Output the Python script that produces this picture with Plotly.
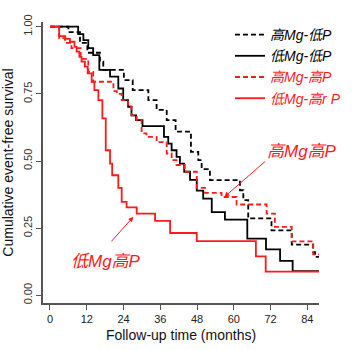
import plotly.graph_objects as go

# ---- data ----
hmg_lp_t = [0, 6, 9.8, 12.2, 16.3, 17.4, 24.1, 27, 32.1, 34.8, 38.1, 41, 46, 48.4, 49.5, 52.2, 62, 63.1, 64.7, 72.3, 78.9, 85.9, 86.5, 87.8]
hmg_lp_s = [1.0, 0.98, 0.94, 0.903, 0.87, 0.839, 0.801, 0.764, 0.727, 0.69, 0.652, 0.609, 0.534, 0.503, 0.47, 0.429, 0.391, 0.354, 0.286, 0.242, 0.189, 0.161, 0.143, 0.143]

lmg_lp_t = [0, 9.2, 10.9, 12.5, 14.1, 16.1, 19.6, 22.3, 23.9, 25.5, 26.6, 28.1, 30.2, 37.2, 38.6, 39.7, 41.3, 42.4, 43.8, 45.7, 47.9, 50, 52.8, 57.1, 64.4, 70.5, 75.1, 79.2, 87.8]
lmg_lp_s = [1.0, 0.972, 0.95, 0.92, 0.894, 0.839, 0.814, 0.77, 0.727, 0.702, 0.67, 0.652, 0.63, 0.59, 0.565, 0.54, 0.515, 0.49, 0.46, 0.43, 0.39, 0.36, 0.31, 0.282, 0.211, 0.171, 0.128, 0.09, 0.09]

hmg_hp_t = [0, 3, 4.9, 7, 10, 12.5, 14.1, 20.7, 21.8, 23.4, 25.5, 26.6, 28.3, 29.9, 31.5, 34.8, 38.1, 39.7, 41.3, 44, 47.9, 50.6, 56, 60.9, 70.7, 73.4, 78.9, 85.9, 87.8]
hmg_hp_s = [1.0, 0.957, 0.94, 0.92, 0.88, 0.832, 0.795, 0.76, 0.75, 0.727, 0.702, 0.67, 0.652, 0.603, 0.59, 0.57, 0.528, 0.503, 0.485, 0.46, 0.40, 0.381, 0.366, 0.338, 0.304, 0.255, 0.201, 0.152, 0.152]

lmg_hp_t = [0, 3, 5, 6.5, 8, 8.7, 9.6, 10.3, 11.4, 12.3, 13.6, 14.5, 15.8, 17.1, 18.2, 19.6, 20.3, 22.3, 23.4, 25, 28.3, 34.3, 39.2, 47.9, 67.2, 70.4, 87.8]
lmg_hp_s = [1.0, 0.965, 0.955, 0.944, 0.925, 0.907, 0.888, 0.87, 0.851, 0.826, 0.795, 0.764, 0.727, 0.659, 0.54, 0.49, 0.447, 0.40, 0.348, 0.327, 0.304, 0.277, 0.232, 0.202, 0.145, 0.088, 0.088]

x_ticks = [0, 12, 24, 36, 48, 60, 72, 84]
y_ticks = [0.0, 0.25, 0.5, 0.75, 1.0]
y_tick_labels = ["0.00", "0.25", "0.50", "0.75", "1.00"]

series_names = ["高Mg-低P", "低Mg-低P", "高Mg-高P", "低Mg-高r P"]

FONT = "Liberation Sans, Arial, Noto Sans CJK SC, sans-serif"
RED = "#ff1a1a"

fig = go.Figure()
specs = [
    (hmg_lp_t, hmg_lp_s, series_names[0], "black", "5px,3px"),
    (lmg_lp_t, lmg_lp_s, series_names[1], "black", "solid"),
    (hmg_hp_t, hmg_hp_s, series_names[2], RED, "5px,3px"),
    (lmg_hp_t, lmg_hp_s, series_names[3], RED, "solid"),
]
for t, s, name, col, dash in specs:
    fig.add_trace(go.Scatter(
        x=t, y=s, mode="lines", line_shape="hv",
        line=dict(color=col, width=1.8, dash=dash),
        name=f"<span style='color:{col}'><i>{name}</i></span>",
    ))

fig.update_layout(
    width=353, height=350,
    margin=dict(l=43, r=34, t=22, b=47, autoexpand=False),
    paper_bgcolor="white", plot_bgcolor="white",
    font=dict(family=FONT, size=11, color="#222"),
    showlegend=True,
    legend=dict(
        xref="container", yref="container",
        x=230 / 353, y=1 - 19 / 350, xanchor="left", yanchor="top",
        bgcolor="rgba(0,0,0,0)", borderwidth=0,
        font=dict(family=FONT, size=14),
        tracegroupgap=0, itemwidth=30,
    ),
    xaxis=dict(
        range=[-2.28, 87.8], tickmode="array", tickvals=x_ticks,
        showgrid=False, zeroline=False, showline=True, linecolor="#555", linewidth=1.5,
        ticks="outside", ticklen=5, tickcolor="#555", tickwidth=1,
        tickfont=dict(size=11, color="#222"),
        title=dict(text="Follow-up time (months)", font=dict(size=14, color="#111"), standoff=6),
    ),
    yaxis=dict(
        range=[-0.0287, 1.0175], tickmode="array", tickvals=y_ticks, ticktext=y_tick_labels,
        tickangle=-90,
        showgrid=False, zeroline=False, showline=True, linecolor="#555", linewidth=1.5,
        ticks="outside", ticklen=5, tickcolor="#555", tickwidth=1,
        tickfont=dict(size=11, color="#333"),
        title=dict(text="Cumulative event-free survival", font=dict(size=14, color="#111"), standoff=5),
    ),
)

# text labels
fig.add_annotation(x=82.2, y=0.534, xref="x", yref="y", text="<i>高Mg高P</i>",
                   showarrow=False, font=dict(family=FONT, size=17, color=RED))
fig.add_annotation(x=18.3, y=0.124, xref="x", yref="y", text="<i>低Mg高P</i>",
                   showarrow=False, font=dict(family=FONT, size=17, color=RED))
# arrows
fig.add_annotation(x=56.9, y=0.366, ax=70.7, ay=0.503, xref="x", yref="y", axref="x", ayref="y",
                   text="", showarrow=True, arrowhead=2, arrowsize=1, arrowwidth=1, arrowcolor=RED)
fig.add_annotation(x=27.2, y=0.292, ax=19.6, ay=0.195, xref="x", yref="y", axref="x", ayref="y",
                   text="", showarrow=True, arrowhead=2, arrowsize=1, arrowwidth=1, arrowcolor=RED)

fig.write_html("out.html")
